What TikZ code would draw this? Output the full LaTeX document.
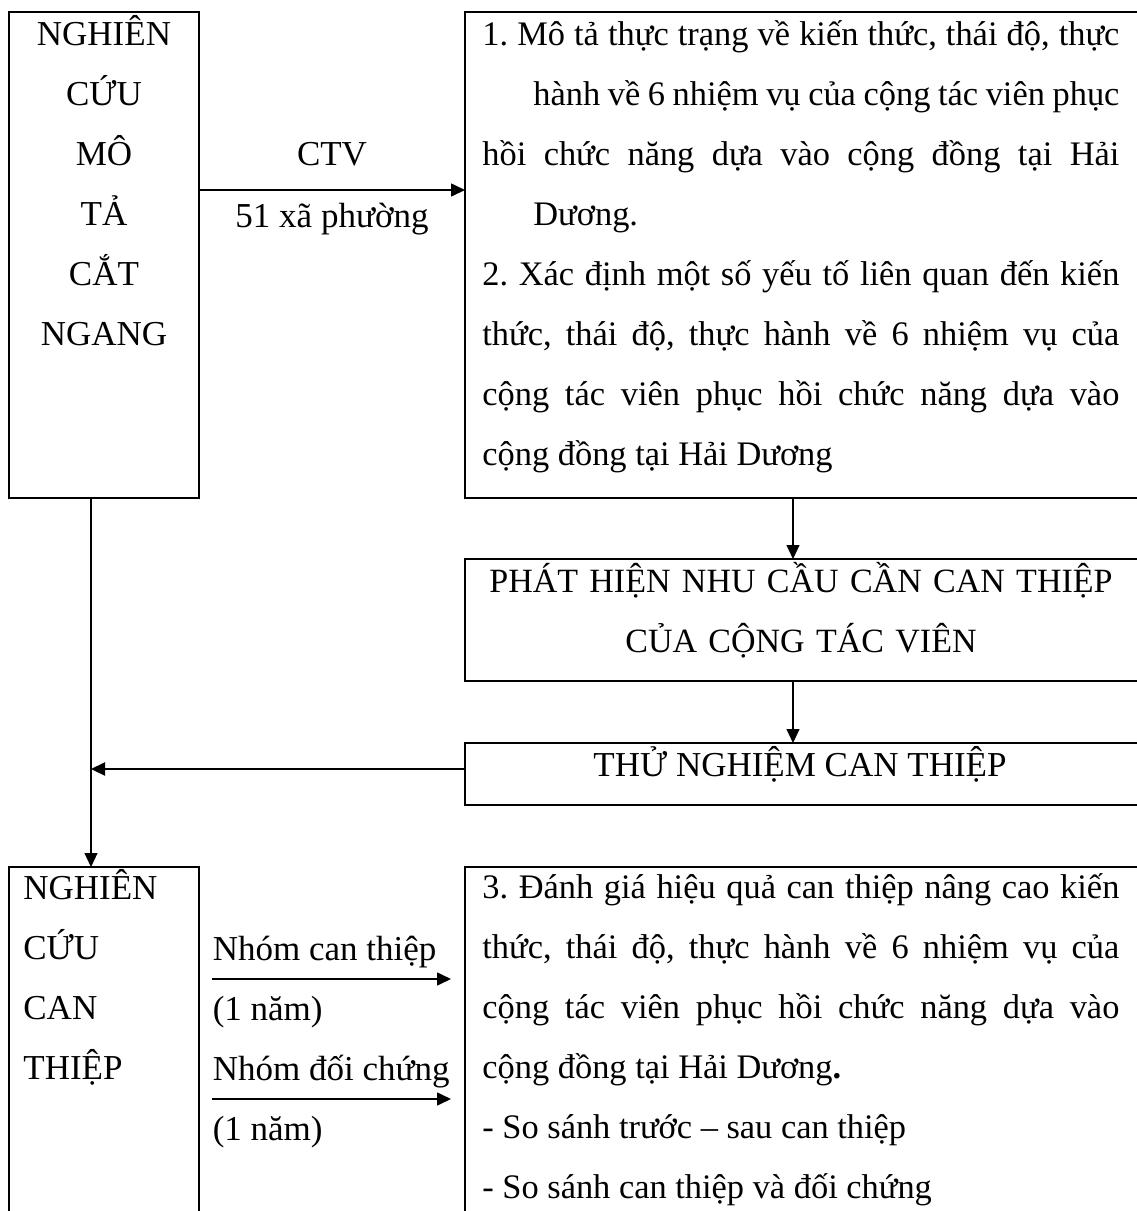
\documentclass[tikz,border=0pt]{standalone}
\usepackage{fontspec}
\setmainfont{Liberation Serif}
\usetikzlibrary{positioning,arrows.meta}

\newcommand{\dong}[2]{\makebox[#1][s]{#2}}
\newcommand{\caccach}{\spaceskip=0pt\xspaceskip=0pt\frenchspacing}

\begin{document}
\begin{tikzpicture}[
            x=0.5pt, y=-0.5pt,
            font=\fontsize{17.5pt}{30pt}\selectfont,
            box/.style={
                draw,
                line width=1.1pt,
                inner sep=0pt,
                outer sep=0pt
            },
            txt/.style={
                inner sep=0pt,
                anchor=base west,
                align=left
            },
            para/.style={
                txt,
                text width=320pt,
                font=\fontsize{17.2pt}{30pt}\selectfont
            },
            lbl/.style={inner sep=0pt},
            arrow/.style={-{Triangle[length=7pt,width=6.5pt]}, line width=0.8pt}
        ]

        \useasboundingbox (0,0) rectangle (1136,1211);

        \node[box, minimum width=95pt, minimum height=243pt] (mota) at (104,255) {};
        \node[box, minimum width=340pt, minimum height=243pt] (muctieu12) at (805,255) {};
        \node[box, minimum width=340pt, minimum height=61pt] (nhucau) at (805,620) {};
        \node[box, minimum width=340pt, minimum height=31pt] (thunghiem) at (805,774) {};
        \node[box, minimum width=95pt, minimum height=182pt] (canthiep) at (104,1049) {};
        \node[box, minimum width=340pt, minimum height=182pt] (muctieu3) at (805,1049) {};

        \node[txt, anchor=base, align=center, text width=95pt] (motatext) at (104,45)
            {NGHIÊN\\CỨU\\MÔ\\TẢ\\CẮT\\NGANG};
        \node[para] (muctieu12text) at (482,45)
            {\caccach
             \dong{318.5pt}{1. Mô tả thực trạng về kiến thức, thái độ, thực}\\
             \hspace*{25.5pt}\dong{293pt}{hành về 6 nhiệm vụ của cộng tác viên phục}\\
             \dong{318.5pt}{hồi chức năng dựa vào cộng đồng tại Hải}\\
             \hspace*{25.5pt}Dương.\\
             \dong{318.5pt}{2. Xác định một số yếu tố liên quan đến kiến}\\
             \dong{318.5pt}{thức, thái độ, thực hành về 6 nhiệm vụ của}\\
             \dong{318.5pt}{cộng tác viên phục hồi chức năng dựa vào}\\
             cộng đồng tại Hải Dương};
        \node[txt, anchor=base, align=center, text width=330pt,
              font=\fontsize{17pt}{30pt}\selectfont] (nhucautext) at (801,592)
            {PHÁT HIỆN NHU CẦU CẦN CAN THIỆP\\CỦA CỘNG TÁC VIÊN};
        \node[lbl, anchor=base] (thunghiemtext) at (800,776) {THỬ NGHIỆM CAN THIỆP};
        \node[txt, text width=88pt] (canthieptext) at (23,899)
            {NGHIÊN\\CỨU\\CAN\\THIỆP};
        \node[para] (muctieu3text) at (482,898)
            {\caccach
             \dong{318.5pt}{3. Đánh giá hiệu quả can thiệp nâng cao kiến}\\
             \dong{318.5pt}{thức, thái độ, thực hành về 6 nhiệm vụ của}\\
             \dong{318.5pt}{cộng tác viên phục hồi chức năng dựa vào}\\
             cộng đồng tại Hải Dương\textbf{.}\\
             - So sánh trước – sau can thiệp\\
             - So sánh can thiệp và đối chứng};

        \coordinate (ctv) at (0,190);
        \coordinate (cottrai) at (91,0);
        \coordinate (cotphai) at (793,0);
        \coordinate (quaylai) at (0,769);
        \coordinate (nhom1) at (0,979);
        \coordinate (nhom2) at (0,1099);
        \coordinate (nhomtrai) at (212,0);
        \coordinate (nhomphai) at (451,0);

        \draw[arrow] (mota.east |- ctv) -- (muctieu12.west |- ctv)
            node[lbl, midway, anchor=base, yshift=12.5pt] (ctvlabel) {CTV}
            node[lbl, midway, anchor=base, yshift=-18.5pt] (xalabel) {51 xã phường};
        \draw[arrow, line width=0.6pt] (muctieu12.south -| cotphai) -- (nhucau.north -| cotphai);
        \draw[arrow, line width=0.6pt] (nhucau.south -| cotphai) -- (thunghiem.north -| cotphai);
        \draw[arrow, line width=1.1pt] (thunghiem.west |- quaylai) -- (cottrai |- quaylai);
        \draw[arrow, line width=0.6pt] (mota.south -| cottrai) -- (canthiep.north -| cottrai);
        \draw[arrow] (nhomtrai |- nhom1) -- (nhomphai |- nhom1)
            node[lbl, at start, anchor=base west, yshift=9.5pt] (nhom1tren) {Nhóm can thiệp}
            node[lbl, at start, anchor=base west, yshift=-20.5pt] (nhom1duoi) {(1 năm)};
        \draw[arrow] (nhomtrai |- nhom2) -- (nhomphai |- nhom2)
            node[lbl, at start, anchor=base west, yshift=9.5pt] (nhom2tren) {Nhóm đối chứng}
            node[lbl, at start, anchor=base west, yshift=-20.5pt] (nhom2duoi) {(1 năm)};

        \end{tikzpicture}
\end{document}
